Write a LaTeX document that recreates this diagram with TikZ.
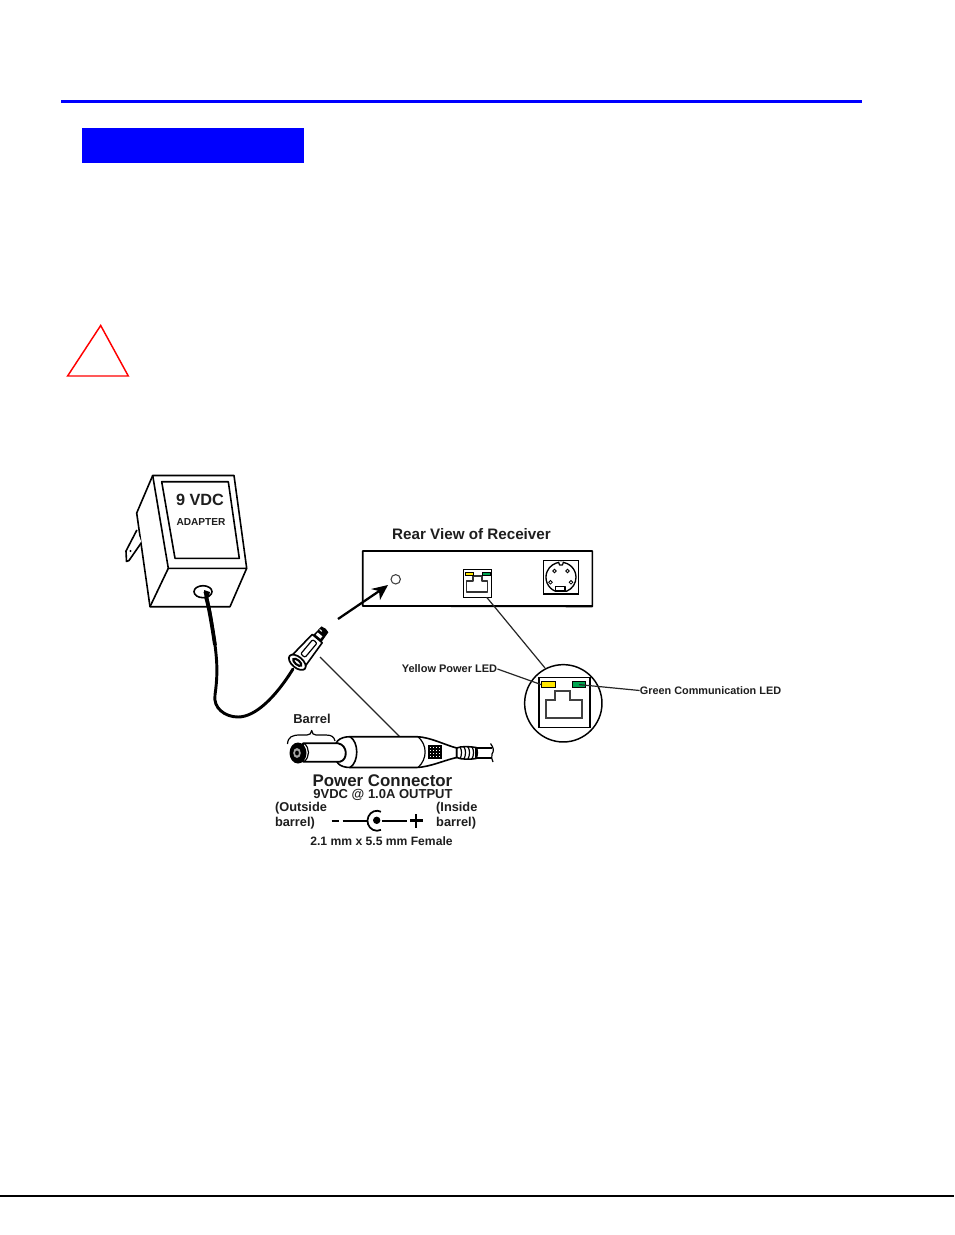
\documentclass[tikz,border=0pt]{standalone}
\usepackage{fontspec}
\setmainfont{Liberation Sans}
\definecolor{ledyellow}{RGB}{255,230,0}
\definecolor{ledgreen}{RGB}{0,166,81}
\definecolor{txt}{RGB}{30,30,30}
\newcommand{\pf}[1]{\fontsize{#1}{#1}\selectfont\bfseries}
\tikzset{
  ink/.style={draw=black,line width=1.2pt,line join=round},
  thin ink/.style={draw=black,line width=0.9pt,line join=round},
  leader/.style={draw=black!85,line width=0.9pt},
  lbl/.style={inner sep=0pt,text=txt,align=left},
}
\begin{document}
\begin{tikzpicture}[x=0.75pt,y=-0.75pt]
\useasboundingbox (0,0) rectangle (954,1235);
\fill[white] (0,0) rectangle (954,1235);
% page furniture
\fill[blue] (61,100) rectangle (862,103);
\fill[blue] (82,128) rectangle (304,162.7);
\draw[red,line width=1.1pt,line join=miter] (100.7,325.5) -- (128.3,376) -- (67.6,376) -- cycle;
\fill[black] (0,1194.5) rectangle (954,1196.5);
% adapter
\draw[ink] (152.7,475.5) -- (234,475.5) -- (246.7,568.3) -- (168.3,568.3) -- cycle;
\draw[ink] (161.7,481.7) -- (228.3,481.7) -- (239.3,558.3) -- (175,558.3) -- cycle;
\draw[ink] (152.7,475.5) -- (136.7,513) -- (150,606.7) -- (230,606.7) -- (246.7,568.3);
\draw[ink] (168.3,568.3) -- (150,606.7);
\node[lbl,font=\pf{12.2}] (vdc) at (200,499.5) {9 VDC};
\node[lbl,font=\pf{7.6}] (adapter) at (201,522.5) {ADAPTER};
% plug blade
\draw[ink,fill=white] (136.9,530) -- (126,551) -- (126.5,561.5) -- (129,560.5) -- (141.5,542.5);
\fill[black] (130.5,551) circle (1.2);
% socket and cord
\draw[ink,fill=white] (203,591.7) ellipse (9 and 6);
\draw[black,line width=2.2pt,line cap=round] (205,592) .. controls (209,603) and (212,625) .. (215,645)
  .. controls (218,668) and (217,680) .. (215,695)
  .. controls (213,708) and (225,717) .. (238,717)
  .. controls (255,717) and (275,698) .. (293,669);
\draw[black,line width=2.8pt] (206,597) .. controls (209,607) and (212,625) .. (215,645);
\fill[black] (204,590) -- (210,592) -- (208,599) -- (205,599) -- cycle;
% connector in hand
\begin{scope}[shift={(297.3,662.3)},rotate=50]
  \draw[ink,fill=white] (3,-8.5) -- (31,-6.5) -- (31,6.5) -- (3,8.5) -- cycle;
  \draw[thin ink] (10,-2.8) -- (26,-2.8) .. controls (28,-2.8) and (28,2.8) .. (26,2.8) -- (10,2.8) .. controls (8,2.8) and (8,-2.8) .. (10,-2.8) -- cycle;
  \draw[black,line width=1.3pt,fill=white] (0,0) ellipse (5.5 and 10);
  \draw[black,line width=1.6pt] (0,0) ellipse (2.2 and 5);
  \fill[black] (31,-5.5) -- (43,-4.5) -- (44,0) -- (43,4.5) -- (31,5.5) -- cycle;
  \fill[white] (33,-3.5) rectangle (36,2.5);
  \fill[white] (39,-4) rectangle (40,-1);
\end{scope}
% arrow to receiver
\coordinate (arrowstart) at (338,619);
\coordinate (arrowend) at (388,585);
\draw[black,line width=1.7pt] (arrowstart) -- (380,590.5);
\fill[black] (arrowend) -- (371,589) -- (379,591) -- (380,600) -- cycle;
% receiver
\node[lbl,font=\pf{11.4}] (rearlabel) at (471.5,534) {Rear View of Receiver};
\draw[ink] (362.7,606) -- (362.7,551) -- (592.3,551) -- (592.3,606.5) -- cycle;
\draw[black,line width=1.3pt] (362.7,606) -- (592.3,606);
\draw[black!75,line width=0.8pt] (395.7,579.3) circle (4.7);
% jack small
\node[draw=black,line width=1.1pt,minimum width=21.3pt,minimum height=21pt,inner sep=0pt] (jacksmall) at (477.5,583.3) {};
\draw[thin ink,black!80] (466.7,592) -- (466.7,581) -- (473,581) -- (473,575.9) -- (482,575.9) -- (482,581) -- (487.3,581) -- (487.3,592) -- cycle;
\fill[ledyellow,draw=black,line width=0.3pt] (465.3,572) rectangle (472.7,575.3);
\fill[ledgreen,draw=black,line width=0.3pt] (482.3,572) rectangle (489.7,575.3);
% mini-din
\node[draw=black,line width=0.9pt,minimum width=26.5pt,minimum height=25pt,inner sep=0pt] (dinbox) at (561,577.3) {};
\draw[black,line width=1pt,line join=round] (561,562.3) arc (-90:67:15) -- (555.1,591.1) arc (113:270:15);
\draw[thin ink,fill=white] (558.5,561.7) -- (559.5,565) -- (562.5,565) -- (563.5,561.7);
\draw[thin ink,fill=white] (555.5,586.7) rectangle (565,591);
\foreach \px/\py in {554.5/571,567.5/571,550.5/582.3,571/582.3}
  \draw[black,line width=0.6pt] (\px,\py) circle (1.8);
% detail circle
\coordinate (detailtop) at (545,668);
\coordinate (jackfoot) at (486.7,597.3);
\draw[leader] (jackfoot) -- (detailtop);
\node[draw=black,line width=1.1pt,circle,minimum size=58pt,inner sep=0pt] (detail) at (563.3,703.3) {};
\draw[black,line width=1.2pt] (539,677.3) rectangle (590,727.3);
\node[fill=ledyellow,draw=black,line width=0.8pt,minimum width=10.5pt,minimum height=5pt,inner sep=0pt] (ledY) at (548.7,684.6) {};
\node[fill=ledgreen,draw=black,line width=0.8pt,minimum width=10pt,minimum height=5pt,inner sep=0pt] (ledG) at (579,684.6) {};
\draw[black!75,line width=1.3pt,line join=miter] (545.7,718.3) -- (545.7,700) -- (555,700) -- (555,691) -- (570,691) -- (570,700) -- (582.3,700) -- (582.3,718.3) -- cycle;
\node[lbl,font=\pf{8.25}] (ylabel) at (449.5,668.5) {Yellow Power LED};
\node[lbl,font=\pf{8.15}] (glabel) at (710.5,690.5) {Green Communication LED};
\draw[leader] (ylabel.east) ++(0,0.5) -- (ledY.west);
\draw[leader] (ledG.center) -- (glabel.west);
% large connector
\coordinate (leadertop) at (320,657);
\coordinate (leaderfoot) at (400,737);
\draw[leader] (leadertop) -- (leaderfoot);
\node[lbl,font=\pf{9.7}] (barrel) at (312,718.5) {Barrel};
\draw[thin ink] (287.5,744) .. controls (288,737) and (292,735) .. (300,735) -- (307,735)
  .. controls (310,735) and (311,733.5) .. (311.7,730.5) .. controls (312.5,733.5) and (313,735) .. (316,735)
  -- (326,735) .. controls (332,735) and (334,737) .. (335,741);
% body
\draw[ink,fill=white] (338,754) .. controls (331,742) and (340,736.7) .. (350,736.7)
  -- (416.7,736.7) .. controls (430,737) and (445,745) .. (456.7,748)
  -- (456.7,757.5) .. controls (445,760) and (430,767) .. (416.7,767.5) -- (350,767.5)
  .. controls (340,767.5) and (333,762) .. (338,754) -- cycle;
\draw[ink] (350,736.7) .. controls (359,742) and (359,762) .. (350,767.5);
\draw[thin ink] (418,736.7) .. controls (427.5,745) and (427.5,759) .. (418,767.5);
\draw[black,line width=1.4pt,line join=round,fill=white] (303,743.3) -- (338,743.3) .. controls (348,745) and (348,760) .. (340,761.7) -- (303,761.7) -- cycle;
\draw[thin ink] (304,743.3) .. controls (310,748) and (310,757) .. (304,761.7);
% tip
\fill[black] (298,753) ellipse (8.5 and 10.5);
\fill[black!35] (297,753) ellipse (3.8 and 5);
\fill[black] (297,753) ellipse (1.9 and 2.5);
% hatch
\foreach \hx in {428,429.5,...,441.5}
  \draw[black,line width=0.6pt] (\hx,745) -- (\hx,758.5);
\foreach \hy in {745,746.5,...,758.5}
  \draw[black,line width=0.6pt] (428,\hy) -- (442,\hy);
% neck and cable
\draw[ink,fill=white] (456.7,748) .. controls (461,746) and (470,746.5) .. (476,747.5) -- (476,758.5) .. controls (470,759.5) and (461,759.5) .. (456.7,757.5) -- cycle;
\foreach \rx in {460,464,468,472,476}
  \draw[thin ink] (\rx,747) .. controls (\rx+2,750) and (\rx+2,755) .. (\rx,759);
\draw[ink] (476,748) -- (491.5,748) (476,758) -- (491.5,758);
\draw[thin ink] (490.5,743.5) .. controls (494,748) and (494,751) .. (492,754) .. controls (491,757) and (492,760) .. (493,762);
\node[lbl,font=\pf{12.65}] (pctitle) at (382.5,781) {Power Connector};
\node[lbl,font=\pf{9.75}] (pcout) at (383,795) {9VDC @ 1.0A OUTPUT};
\node[lbl,font=\pf{9.6}] (pcleft) at (301,815.5) {(Outside\\[1.8pt]barrel)};
\node[lbl,font=\pf{9.6}] (pcright) at (456.8,815.5) {(Inside\\[1.8pt]barrel)};
\node[lbl,font=\pf{9.1}] (pcsize) at (381.5,841) {2.1 mm x 5.5 mm Female};
% schematic symbol
\draw[black,line width=1.5pt] (331.7,820.7) -- (339.3,820.7);
\coordinate (symL) at (342.7,820.7);
\coordinate (symLend) at (368.3,820.7);
\coordinate (symR) at (381.7,820.7);
\coordinate (symRend) at (407.3,820.7);
\draw[black,line width=1.3pt] (symL) -- (symLend);
\draw[black,line width=1.3pt] (symR) -- (symRend);
\draw[black,line width=1.3pt] (381,811.7) arc (-65:-295:9.5 and 10);
\fill[black] (376.7,820.3) circle (3.7);
\draw[black,line width=1.9pt] (410,820.7) -- (422.5,820.7) (416,814) -- (416,827.5);
\end{tikzpicture}
\end{document}
